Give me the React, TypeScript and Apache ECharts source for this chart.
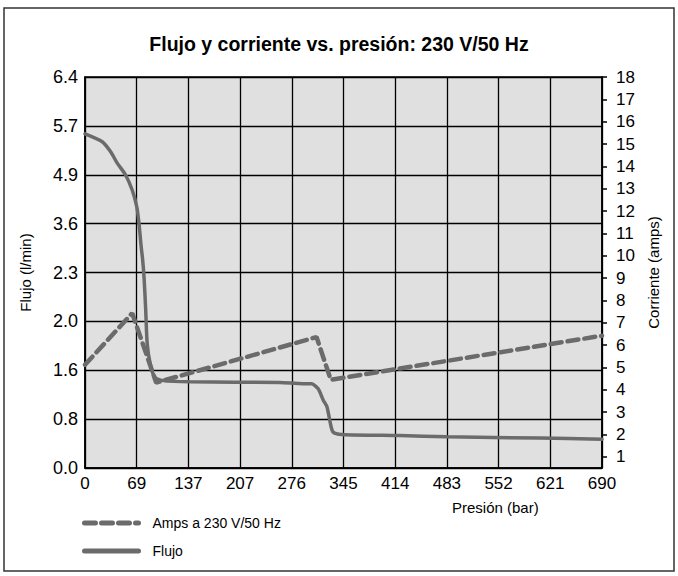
import React, { useEffect, useRef } from "react";
import * as echarts from "echarts";

const xTickLabels = ["0", "69", "137", "207", "276", "345", "414", "483", "552", "621", "690"];
const leftTickLabels = ["0.0", "0.8", "1.6", "2.0", "2.3", "3.6", "4.9", "5.7", "6.4"];
const rightTicks = [1, 2, 3, 4, 5, 6, 7, 8, 9, 10, 11, 12, 13, 14, 15, 16, 17, 18];

const flowPressure = [0, 23, 34, 43, 54, 63, 69, 72, 75, 77, 79, 81, 83, 87, 93, 105, 140, 260, 291, 302, 311, 318, 323, 327, 331, 343, 420, 483, 607, 690];
const flowValues = [5.47, 5.34, 5.18, 4.99, 4.8, 4.55, 4.28, 4.01, 3.62, 3.4, 3.08, 2.59, 2.04, 1.71, 1.49, 1.43, 1.41, 1.4, 1.38, 1.38, 1.3, 1.11, 1.0, 0.76, 0.59, 0.55, 0.53, 0.51, 0.49, 0.47];

const ampsPressure = [0, 63, 95, 309, 328, 690];
const ampsValues = [5.12, 7.43, 4.32, 6.36, 4.45, 6.42];

const SANS = "'Liberation Sans', Arial, Helvetica, sans-serif";

export default function App() {
  const ref = useRef<HTMLDivElement>(null);
  useEffect(() => {
    if (!ref.current) return;
    const chart = echarts.init(ref.current, undefined, { renderer: "svg" });
    const option: any = {
      animation: false,
      backgroundColor: "#ffffff",
      title: {
        text: "Flujo y corriente vs. presión: 230 V/50 Hz",
        left: "center",
        top: 29,
        textStyle: { fontFamily: SANS, fontWeight: "bold", fontSize: 19.5, color: "#000" },
      },
      graphic: [
        {
          type: "rect",
          shape: { x: 4, y: 8, width: 670, height: 563 },
          style: { fill: "none", stroke: "#333", lineWidth: 1.5 },
          silent: true,
        },
        {
          type: "text",
          left: 452,
          top: 500,
          style: { text: "Presión (bar)", fontFamily: SANS, fontSize: 15, fill: "#000" },
        },
      ],
      legend: {
        orient: "vertical",
        left: 82,
        top: 516,
        padding: 0,
        itemWidth: 54,
        itemHeight: 14,
        itemGap: 14,
        data: ["Amps a 230 V/50 Hz", "Flujo"],
        itemStyle: { opacity: 0 },
        lineStyle: { width: 5, cap: "round" },
        textStyle: { fontFamily: SANS, fontSize: 14, color: "#000", padding: [0, 0, 0, 9] },
      },
      grid: {
        left: 85,
        right: 76,
        top: 77,
        bottom: 108,
        show: true,
        backgroundColor: "#e0e0e0",
        borderColor: "#000",
        borderWidth: 1.5,
      },
      xAxis: {
        type: "value",
        min: 0,
        max: 690,
        interval: 69,
        axisLine: { show: true, lineStyle: { color: "#000", width: 1.5 } },
        axisTick: { show: false },
        axisLabel: {
          margin: 7,
          color: "#000",
          fontFamily: SANS,
          fontSize: 17,
          formatter: (v: number) => xTickLabels[Math.round(v / 69)] ?? "",
        },
        splitLine: { show: true, lineStyle: { color: "#000", width: 1.3 } },
      },
      yAxis: [
        {
          type: "value",
          min: 0,
          max: 6.4,
          interval: 0.8,
          name: "Flujo (l/min)",
          nameLocation: "middle",
          nameRotate: 90,
          nameGap: 52,
          nameTextStyle: { fontFamily: SANS, fontSize: 15, color: "#000" },
          axisLine: { show: true, lineStyle: { color: "#000", width: 1.5 } },
          axisTick: { show: false },
          axisLabel: {
            margin: 7,
            color: "#000",
            fontFamily: SANS,
            fontSize: 18,
            formatter: (v: number) => leftTickLabels[Math.round(v / 0.8)] ?? "",
          },
          splitLine: { show: true, lineStyle: { color: "#000", width: 1.3 } },
        },
        {
          type: "value",
          min: 0.5,
          max: 18,
          position: "right",
          name: "Corriente (amps)",
          nameLocation: "middle",
          nameRotate: 90,
          nameGap: 37,
          nameTextStyle: { fontFamily: SANS, fontSize: 15, color: "#000" },
          axisLine: { show: true, lineStyle: { color: "#000", width: 1.5 } },
          axisTick: {
            show: true,
            length: 5,
            inside: false,
            customValues: rightTicks,
            lineStyle: { color: "#000", width: 1.5 },
          },
          axisLabel: {
            margin: 14,
            color: "#000",
            fontFamily: SANS,
            fontSize: 17,
            customValues: rightTicks,
          },
          splitLine: { show: false },
        },
      ],
      series: [
        {
          name: "Amps a 230 V/50 Hz",
          type: "line",
          yAxisIndex: 1,
          symbol: "none",
          data: ampsPressure.map((p, i) => [p, ampsValues[i]]),
          lineStyle: { color: "#6b6b6b", width: 4.5, type: [11, 6], cap: "round" },
          itemStyle: { color: "#6b6b6b" },
          z: 3,
        },
        {
          name: "Flujo",
          type: "line",
          yAxisIndex: 0,
          symbol: "none",
          smooth: 0.25,
          data: flowPressure.map((p, i) => [p, flowValues[i]]),
          lineStyle: { color: "#6b6b6b", width: 3.5, cap: "round" },
          itemStyle: { color: "#6b6b6b" },
          z: 2,
        },
      ],
    };
    chart.setOption(option);
    return () => chart.dispose();
  }, []);
  return (
    <div
      ref={ref}
      style={{ position: "absolute", left: 0, top: 0, width: 678, height: 576 }}
    />
  );
}
